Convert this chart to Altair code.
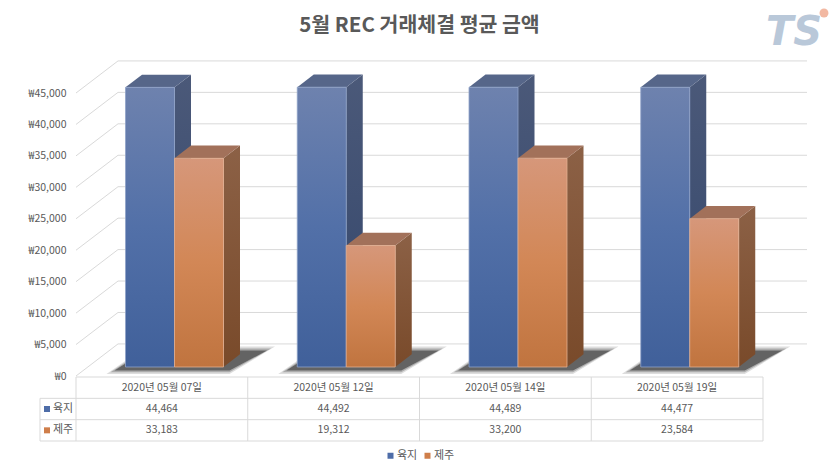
import altair as alt
import pandas as pd

# ---------------- data ----------------
dates = ["2020년 05월 07일", "2020년 05월 12일", "2020년 05월 14일", "2020년 05월 19일"]
series = ["육지", "제주"]
land = [44464, 44492, 44489, 44477]
jeju = [33183, 19312, 33200, 23584]
y_ticks = [0, 5000, 10000, 15000, 20000, 25000, 30000, 35000, 40000, 45000]
title_text = "5월 REC 거래체결 평균 금액"

# ---------------- styling / geometry ----------------
FONT = "Noto Sans CJK KR"
TXT = "#595959"
GRID = "#D9D9D9"
BLUE = "#4E6DA8"
ORANGE = "#CF7E4A"

PLOT_W, PLOT_H = 687, 381
COL_PX = PLOT_W / 4.0          # pixels per category column
K = 283.0 / 45000.0            # pixels per currency unit


def px(p):
    return p / COL_PX


def py(p):
    return p / K


Y_MAX = py(316)
Y_MIN = -py(65)
BACK = 5100                    # back-wall shift (depth) in value units
X_WALL = px(42)
X_RIGHT = px(731)
BAR_BASE = py(9)
BAR_OFF = px(49.5)
BAR_W = px(49)
DX = px(16.5)
DY = py(12.7)

ROW_PX = 21.33
X_LEFT = px(-36)


def trow(r):
    # table row position (0 = table bottom) expressed on the shared y scale
    return Y_MIN + r * py(ROW_PX)


xs = alt.Scale(domain=[0, 4], nice=False, zero=False)
ys = alt.Scale(domain=[Y_MIN, Y_MAX], nice=False, zero=False)
AXY = alt.Axis(values=y_ticks, labelExpr="'₩' + format(datum.value, ',')",
               domain=False, ticks=False, grid=False, labelFont=FONT,
               labelFontSize=10.5, labelColor=TXT, labelPadding=10, title=None)


def X(f):
    return alt.X(f, scale=xs, axis=None)


def Y(f):
    return alt.Y(f, scale=ys, axis=AXY, title=None)


faces = {
    "육지": dict(front=["#6E82AE", "#5270A8", "#40609A"], fstroke="#8FA2C8",
                 side=["#4B5979", "#33466B"], top="#566689"),
    "제주": dict(front=["#D6977A", "#D28756", "#C0743F"], fstroke="#E2AE90",
                 side=["#8C6146", "#794A2A"], top="#A2715A"),
}


def vgrad(cols):
    n = len(cols) - 1
    return alt.Gradient(gradient="linear", x1=0, x2=0, y1=0, y2=1,
                        stops=[alt.GradientStop(color=c, offset=i / n) for i, c in enumerate(cols)])


# ---------------- walls / grid ----------------
grid_df = pd.DataFrame({"v": y_ticks})
grid_df["vb"] = grid_df["v"] + BACK
grid_df["x0"] = 0.0
grid_df["xw"] = X_WALL
grid_df["xr"] = X_RIGHT

back_lines = alt.Chart(grid_df).mark_rule(color=GRID, strokeWidth=1).encode(
    x=X("xw:Q"), x2="xr:Q", y=Y("vb:Q"))
side_lines = alt.Chart(grid_df).mark_rule(color=GRID, strokeWidth=1).encode(
    x=X("x0:Q"), x2="xw:Q", y=Y("v:Q"), y2="vb:Q")

# ---------------- floor shadows ----------------
shadow_rows = []
for i in range(len(dates)):
    L = i + BAR_OFF
    R = L + 2 * BAR_W
    for lvl, e in enumerate([9, 5, 1]):
        yf = BAR_BASE - py(3 + e * 0.45)
        yb = BAR_BASE + py(16 + e * 0.5)
        pts = [(L - px(10 + e), yf, yf), (L + DX + px(4), yf, yb),
               (R + px(6), yf, yb), (R + DX + px(26 + e), yb, yb)]
        for xx, lo, hi in pts:
            shadow_rows.append(dict(id=f"{i}-{lvl}", lvl=lvl, x=xx, lo=lo, hi=hi))
shadow_df = pd.DataFrame(shadow_rows)

shadow_layers = []
for lvl, op in zip([0, 1, 2], [0.15, 0.25, 0.5]):
    shadow_layers.append(
        alt.Chart(shadow_df[shadow_df.lvl == lvl]).mark_area(color="#1A1A1A", opacity=op).encode(
            x=X("x:Q"), y=Y("lo:Q"), y2="hi:Q", detail="id:N"))

# ---------------- 3D bars ----------------
bar_layers = []
for j, (s, vals) in enumerate(zip(series, [land, jeju])):
    f = faces[s]
    fr, sd, tp = [], [], []
    for i, v in enumerate(vals):
        L = i + BAR_OFF + j * BAR_W
        R = L + BAR_W
        y0 = BAR_BASE
        y1 = BAR_BASE + v
        fr.append(dict(date=dates[i], series=s, value=v, L=L, R=R, y0=y0, y1=y1))
        sid = f"{s}{i}"
        sd += [dict(id=sid, x=R, lo=y0, hi=y1), dict(id=sid, x=R + DX, lo=y0 + DY, hi=y1 + DY)]
        tp += [dict(id=sid, x=L, lo=y1, hi=y1), dict(id=sid, x=L + DX, lo=y1, hi=y1 + DY),
               dict(id=sid, x=R, lo=y1, hi=y1 + DY), dict(id=sid, x=R + DX, lo=y1 + DY, hi=y1 + DY)]
    side = alt.Chart(pd.DataFrame(sd)).mark_area(fill=vgrad(f["side"])).encode(
        x=X("x:Q"), y=Y("lo:Q"), y2="hi:Q", detail="id:N")
    top = alt.Chart(pd.DataFrame(tp)).mark_area(color=f["top"]).encode(
        x=X("x:Q"), y=Y("lo:Q"), y2="hi:Q", detail="id:N")
    front = alt.Chart(pd.DataFrame(fr)).mark_rect(
        fill=vgrad(f["front"]), stroke=f["fstroke"], strokeWidth=0.8).encode(
        x=X("L:Q"), x2="R:Q", y=Y("y0:Q"), y2="y1:Q",
        tooltip=["date:N", "series:N", alt.Tooltip("value:Q", format=",")])
    bar_layers += [side, top, front]

# ---------------- data table ----------------
hl = pd.DataFrame({"x": [0, X_LEFT, X_LEFT, X_LEFT], "x2": [4, 4, 4, 4],
                   "y": [trow(r) for r in [3, 2, 1, 0]]})
vl = pd.DataFrame({"x": [X_LEFT, 0, 1, 2, 3, 4],
                   "y0": [trow(0)] * 6, "y1": [trow(r) for r in [2, 3, 3, 3, 3, 3]]})

h_rules = alt.Chart(hl).mark_rule(color=GRID, strokeWidth=1).encode(
    x=X("x:Q"), x2="x2:Q", y=Y("y:Q"))
v_rules = alt.Chart(vl).mark_rule(color=GRID, strokeWidth=1).encode(
    x=X("x:Q"), y=Y("y0:Q"), y2="y1:Q")

head_df = pd.DataFrame({"date": dates, "x": [i + 0.5 for i in range(len(dates))], "y": trow(2.5)})
head = alt.Chart(head_df).mark_text(font=FONT, fontSize=10.5, color=TXT, baseline="middle").encode(
    x=X("x:Q"), y=Y("y:Q"), text="date:N")

val_rows = []
for j, (s, vals) in enumerate(zip(series, [land, jeju])):
    for i, v in enumerate(vals):
        val_rows.append(dict(series=s, value=v, x=i + 0.5, y=trow(1.5 - j)))
val_df = pd.DataFrame(val_rows)
vals_txt = alt.Chart(val_df).mark_text(font=FONT, fontSize=10.5, color=TXT, baseline="middle").encode(
    x=X("x:Q"), y=Y("y:Q"), text=alt.Text("value:Q", format=","))

lab_df = pd.DataFrame({"series": series, "y": [trow(1.5), trow(0.5)],
                       "xs": [px(-29)] * 2, "xt": [px(-23)] * 2})
squares = alt.Chart(lab_df).mark_square(size=36, opacity=1).encode(
    x=X("xs:Q"), y=Y("y:Q"),
    color=alt.Color("series:N", scale=alt.Scale(domain=series, range=[BLUE, ORANGE]),
                    legend=alt.Legend(orient="none", legendX=309, legendY=390, direction="horizontal",
                                      title=None, symbolType="square", symbolSize=36,
                                      symbolStrokeWidth=0, labelFont=FONT, labelFontSize=11,
                                      labelColor=TXT, labelOffset=1, columnPadding=4)))
lab_txt = alt.Chart(lab_df).mark_text(font=FONT, fontSize=11, color=TXT, align="left",
                                      baseline="middle").encode(
    x=X("xt:Q"), y=Y("y:Q"), text="series:N")

# ---------------- logo (decoration) ----------------
logo_text = alt.Chart(pd.DataFrame({"t": ["TS"]})).mark_text(
    font="DejaVu Sans", fontSize=40, fontWeight="bold", fontStyle="italic",
    color="#B9C8D9", baseline="middle", align="center").encode(
    x=alt.value(718), y=alt.value(-27), text="t:N")
logo_dot = alt.Chart(pd.DataFrame({"t": ["dot"]})).mark_circle(
    size=80, color="#F2B8A2", opacity=1).encode(x=alt.value(748), y=alt.value(-47))

chart = alt.layer(back_lines, side_lines, *shadow_layers, *bar_layers,
                  h_rules, v_rules, head, vals_txt, squares, lab_txt,
                  logo_text, logo_dot).properties(
    width=PLOT_W, height=PLOT_H,
    title=alt.Title(title_text, font=FONT, fontSize=20.5, fontWeight="bold", color=TXT,
                    anchor="middle", frame="group", offset=0, dy=28),
    padding={"left": 68, "top": 52, "right": 66, "bottom": 20},
    autosize=alt.AutoSizeParams(type="none"),
    background="white",
).configure_view(stroke=None)

chart.save("out.html", embed_options={"renderer": "svg", "actions": False})
